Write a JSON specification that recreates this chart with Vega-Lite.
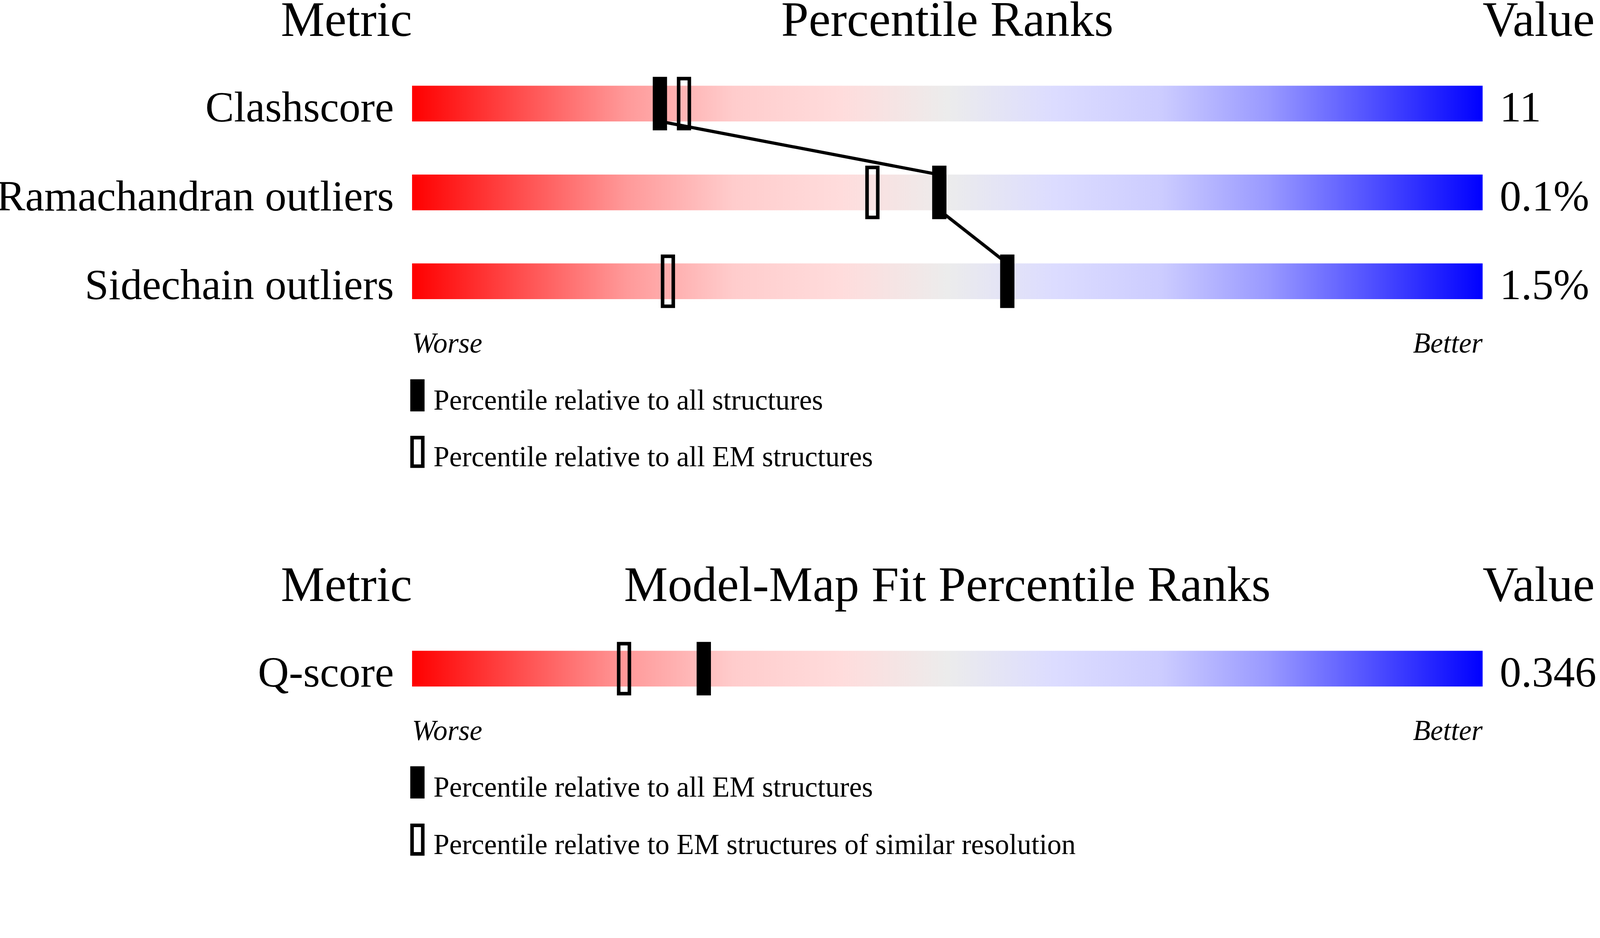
{
  "$schema": "https://vega.github.io/schema/vega-lite/v6.json",
  "width": 4100,
  "height": 2196,
  "padding": 0,
  "autosize": {"type": "none"},
  "background": "white",
  "config": {"view": {"stroke": null}, "text": {"font": "Liberation Serif", "color": "black"}},
  "datasets": {
    "metrics": [
      {"metric": "Clashscore", "row": 1, "value": "11", "solid": 23.15, "hollow": 25.4},
      {"metric": "Ramachandran outliers", "row": 2, "value": "0.1%", "solid": 49.25, "hollow": 43.0},
      {"metric": "Sidechain outliers", "row": 3, "value": "1.5%", "solid": 55.6, "hollow": 23.9},
      {"metric": "Q-score", "row": 7.36, "value": "0.346", "solid": 27.25, "hollow": 19.8}
    ],
    "panels": [
      {"title": "Percentile Ranks", "head": 0.24, "ends": 3.804},
      {"title": "Model-Map Fit Percentile Ranks", "head": 6.6, "ends": 8.164}
    ],
    "legend": [
      {"y": 4.284, "marker": "solid", "label": "Percentile relative to all structures"},
      {"y": 4.92, "marker": "hollow", "label": "Percentile relative to all EM structures"},
      {"y": 8.64, "marker": "solid", "label": "Percentile relative to all EM structures"},
      {"y": 9.284, "marker": "hollow", "label": "Percentile relative to EM structures of similar resolution"}
    ],
    "link": [
      {"step": 1, "pct": 23.15, "y": 1.2},
      {"step": 2, "pct": 49.25, "y": 1.8},
      {"step": 3, "pct": 49.25, "y": 2.2},
      {"step": 4, "pct": 55.6, "y": 2.8}
    ]
  },
  "layer": [
    {
      "data": {"name": "metrics"},
      "mark": {
        "type": "bar", "orient": "horizontal", "size": 91.4, "opacity": 1,
        "fill": {
          "gradient": "linear", "x1": 0, "y1": 0, "x2": 1, "y2": 0,
          "stops": [
            {"offset": 0, "color": "#ff0000"},
            {"offset": 0.1, "color": "#ff4d4d"},
            {"offset": 0.2, "color": "#ff9999"},
            {"offset": 0.3, "color": "#ffcccc"},
            {"offset": 0.4, "color": "#ffdcdc"},
            {"offset": 0.5, "color": "#ececec"},
            {"offset": 0.6, "color": "#dcdcff"},
            {"offset": 0.7, "color": "#ccccff"},
            {"offset": 0.8, "color": "#9999ff"},
            {"offset": 0.9, "color": "#4d4dff"},
            {"offset": 1, "color": "#0000ff"}
          ]
        }
      },
      "encoding": {
        "x": {"datum": 0, "type": "quantitative", "axis": null, "scale": {"domain": [-38.49, 111.11], "nice": false, "zero": false}},
        "x2": {"datum": 100},
        "y": {"field": "row", "type": "quantitative", "axis": null, "scale": {"domain": [-0.144, 9.464], "nice": false, "zero": false, "reverse": true}}
      }
    },
    {
      "data": {"name": "metrics"},
      "mark": {"type": "tick", "orient": "vertical", "size": 128, "thickness": 27.4, "filled": false, "stroke": "black", "strokeWidth": 9.1, "opacity": 1},
      "encoding": {
        "x": {"field": "hollow", "type": "quantitative", "axis": null, "scale": {"domain": [-38.49, 111.11], "nice": false, "zero": false}},
        "y": {"field": "row", "type": "quantitative", "axis": null, "scale": {"domain": [-0.144, 9.464], "nice": false, "zero": false, "reverse": true}}
      }
    },
    {
      "data": {"name": "link"},
      "mark": {"type": "line", "color": "black", "strokeWidth": 8.2},
      "encoding": {
        "x": {"field": "pct", "type": "quantitative", "axis": null, "scale": {"domain": [-38.49, 111.11], "nice": false, "zero": false}},
        "y": {"field": "y", "type": "quantitative", "axis": null, "scale": {"domain": [-0.144, 9.464], "nice": false, "zero": false, "reverse": true}},
        "order": {"field": "step"}
      }
    },
    {
      "data": {"name": "metrics"},
      "mark": {"type": "tick", "orient": "vertical", "size": 137, "thickness": 36.6, "color": "black", "opacity": 1},
      "encoding": {
        "x": {"field": "solid", "type": "quantitative", "axis": null, "scale": {"domain": [-38.49, 111.11], "nice": false, "zero": false}},
        "y": {"field": "row", "type": "quantitative", "axis": null, "scale": {"domain": [-0.144, 9.464], "nice": false, "zero": false, "reverse": true}}
      }
    },
    {
      "data": {"name": "metrics"},
      "mark": {"type": "text", "align": "right", "baseline": "alphabetic", "dy": 45.7, "fontSize": 110},
      "encoding": {
        "x": {"datum": -1.7, "type": "quantitative"},
        "y": {"field": "row", "type": "quantitative"},
        "text": {"field": "metric"}
      }
    },
    {
      "data": {"name": "metrics"},
      "mark": {"type": "text", "align": "left", "baseline": "alphabetic", "dy": 45.7, "fontSize": 110},
      "encoding": {
        "x": {"datum": 101.6, "type": "quantitative"},
        "y": {"field": "row", "type": "quantitative"},
        "text": {"field": "value"}
      }
    },
    {
      "data": {"name": "panels"},
      "mark": {"type": "text", "align": "right", "baseline": "alphabetic", "fontSize": 126},
      "encoding": {
        "x": {"datum": 0, "type": "quantitative"},
        "y": {"field": "head", "type": "quantitative"},
        "text": {"value": "Metric"}
      }
    },
    {
      "data": {"name": "panels"},
      "mark": {"type": "text", "align": "center", "baseline": "alphabetic", "fontSize": 126},
      "encoding": {
        "x": {"datum": 50, "type": "quantitative"},
        "y": {"field": "head", "type": "quantitative"},
        "text": {"field": "title"}
      }
    },
    {
      "data": {"name": "panels"},
      "mark": {"type": "text", "align": "left", "baseline": "alphabetic", "fontSize": 126},
      "encoding": {
        "x": {"datum": 100, "type": "quantitative"},
        "y": {"field": "head", "type": "quantitative"},
        "text": {"value": "Value"}
      }
    },
    {
      "data": {"name": "panels"},
      "mark": {"type": "text", "align": "left", "baseline": "alphabetic", "fontSize": 73, "fontStyle": "italic"},
      "encoding": {
        "x": {"datum": 0, "type": "quantitative"},
        "y": {"field": "ends", "type": "quantitative"},
        "text": {"value": "Worse"}
      }
    },
    {
      "data": {"name": "panels"},
      "mark": {"type": "text", "align": "right", "baseline": "alphabetic", "fontSize": 73, "fontStyle": "italic"},
      "encoding": {
        "x": {"datum": 100, "type": "quantitative"},
        "y": {"field": "ends", "type": "quantitative"},
        "text": {"value": "Better"}
      }
    },
    {
      "data": {"name": "legend"},
      "transform": [{"filter": "datum.marker === 'solid'"}],
      "mark": {"type": "tick", "orient": "vertical", "size": 82.3, "thickness": 36.6, "color": "black", "opacity": 1},
      "encoding": {
        "x": {"datum": 0.5, "type": "quantitative"},
        "y": {"field": "y", "type": "quantitative"}
      }
    },
    {
      "data": {"name": "legend"},
      "transform": [{"filter": "datum.marker === 'hollow'"}],
      "mark": {"type": "tick", "orient": "vertical", "size": 73.1, "thickness": 27.4, "filled": false, "stroke": "black", "strokeWidth": 9.1, "opacity": 1},
      "encoding": {
        "x": {"datum": 0.5, "type": "quantitative"},
        "y": {"field": "y", "type": "quantitative"}
      }
    },
    {
      "data": {"name": "legend"},
      "mark": {"type": "text", "align": "left", "baseline": "alphabetic", "dy": 36.6, "fontSize": 73},
      "encoding": {
        "x": {"datum": 2, "type": "quantitative"},
        "y": {"field": "y", "type": "quantitative"},
        "text": {"field": "label"}
      }
    }
  ]
}
